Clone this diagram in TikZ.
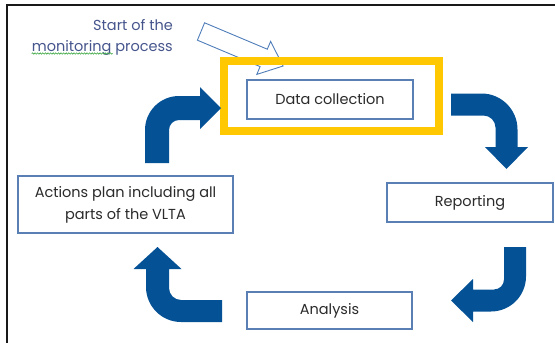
\documentclass[tikz,border=0pt]{standalone}
\usepackage{fontspec}
\setmainfont{Poppins}
\usetikzlibrary{decorations.pathmorphing}
\definecolor{cycleblue}{HTML}{045196}
\definecolor{boxline}{HTML}{5A7FB5}
\definecolor{highlight}{HTML}{FFC800}
\definecolor{labeltext}{HTML}{2B2B2B}
\definecolor{starttext}{HTML}{46558C}
\definecolor{hollowline}{HTML}{4F7DBA}
\definecolor{spellgreen}{HTML}{3DA843}
\begin{document}
\begin{tikzpicture}[x=1pt,y=-1pt,
  stagebox/.style={draw=boxline,line width=1.1pt,fill=white,
    text=labeltext,font=\fontsize{14.5}{22}\selectfont,align=center,
    inner sep=0pt},
  bentarrow/.style={fill=cycleblue,draw=none},
  starttxt/.style={text=starttext,font=\fontsize{14.5}{16}\selectfont,
    inner sep=0pt,anchor=base east}]
\useasboundingbox (0,0) rectangle (555,343);

% page frame (left and top edges)
\draw[line width=1.8pt,black!90] (7,343) -- (7,5) -- (555,5);

% hollow pointer towards the first stage
\draw[hollowline,line width=0.9pt,line join=miter]
  (204.6,22.8) -- (267.3,49.2) -- (270.6,41.4) -- (283.1,66.0)
  -- (256.8,74.4) -- (260.1,66.6) -- (197.4,40.2) -- cycle;

% highlight frame round the first stage
\draw[highlight,line width=8pt] (224,61) rectangle (439,131);

% stages
\node[stagebox,minimum width=166pt,minimum height=39pt] (data) at (330,99.5) {Data collection};
\node[stagebox,minimum width=166pt,minimum height=39pt] (report) at (470,202.5) {Reporting};
\node[stagebox,minimum width=165pt,minimum height=37pt] (analysis) at (329.5,310.5) {Analysis};
\node[stagebox,minimum width=215pt,minimum height=57pt] (actions) at (125.5,204.5)
  {Actions plan including all\\parts of the VLTA};

% starting note
\node[starttxt] (start1) at (173,30.5) {Start of the};
\node[starttxt] (start2) at (173,51) {monitoring process};
\draw[spellgreen,line width=0.6pt,decorate,
  decoration={snake,amplitude=0.7pt,segment length=2.6pt}]
  (start2.base west) ++(0,2.5) -- ++(81,0);

% bent arrow: actions -> data collection
\path[bentarrow]
  (145,163) -- (145,130) .. controls (145,111.2) and (160.2,96) .. (179,96)
  -- (200,96) -- (200,87) -- (221,108) -- (200,129) -- (200,120)
  -- (179,120) .. controls (173.5,120) and (169,124.5) .. (169,130)
  -- (169,163) -- cycle;

% bent arrow: data collection -> reporting
\path[bentarrow]
  (451,93.5) -- (481.5,93.5) .. controls (501.4,93.5) and (517.5,109.6) .. (517.5,129.5)
  -- (517.5,147) -- (528,147) -- (506.5,169) -- (485,147) -- (495.5,147)
  -- (495.5,127.5) .. controls (495.5,120.9) and (490.1,115.5) .. (483.5,115.5)
  -- (451,115.5) -- cycle;

% bent arrow: reporting -> analysis
\path[bentarrow]
  (504,247) -- (526,247) -- (526,276.5) .. controls (526,295.8) and (510.3,311.5) .. (491,311.5)
  -- (473,311.5) -- (473,322) -- (451,300.5) -- (473,279) -- (473,289.5)
  -- (494,289.5) .. controls (499.5,289.5) and (504,285) .. (504,279.5) -- cycle;

% bent arrow: analysis -> actions
\path[bentarrow]
  (222,300) -- (181,300) .. controls (174.4,300) and (169,294.6) .. (169,288)
  -- (169,269) -- (181.5,269) -- (157.5,247) -- (133.5,269) -- (146,269)
  -- (146,287) .. controls (146,306.3) and (161.7,322) .. (181,322)
  -- (222,322) -- cycle;
\end{tikzpicture}
\end{document}
